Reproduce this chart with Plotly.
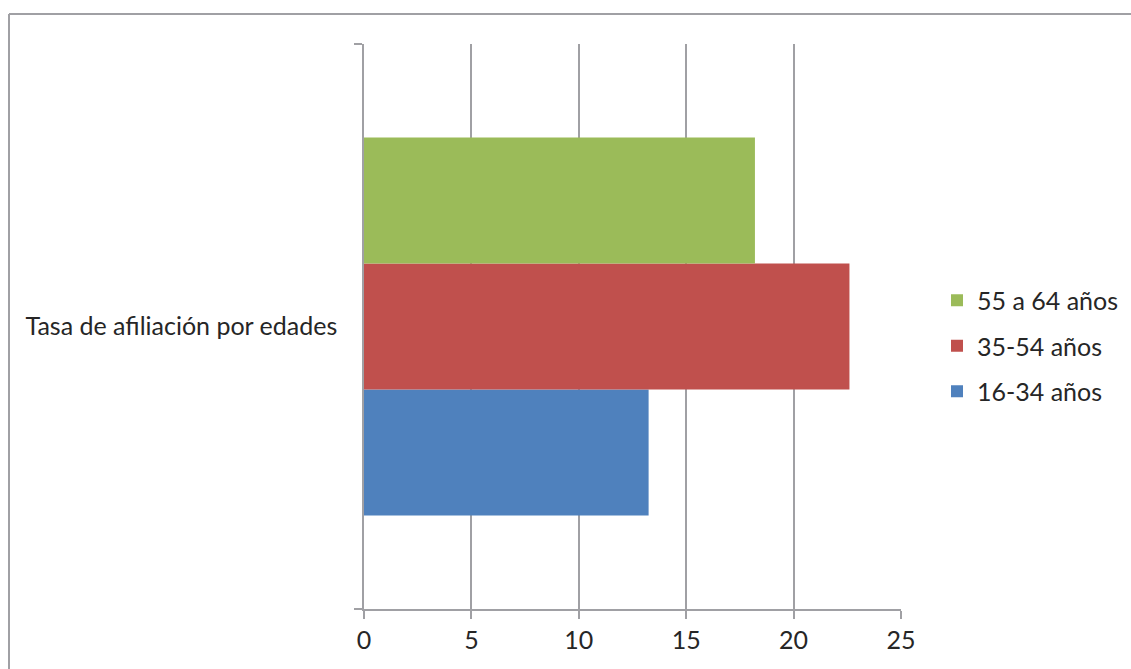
import plotly.graph_objects as go

categories = ["Tasa de afiliación por edades"]
series_names = ["16-34 años", "35-54 años", "55 a 64 años"]
series_values = [[13.25], [22.6], [18.2]]
series_colors = ["#4f81bd", "#c0504d", "#9bbb59"]
legend_ranks = [3, 2, 1]
x_ticks = [0, 5, 10, 15, 20, 25]

W, H = 1131, 669
L, R, T, B = 364, 901, 44, 609

fig = go.Figure()
for name, vals, col, rk in zip(series_names, series_values, series_colors, legend_ranks):
    fig.add_trace(go.Bar(
        y=categories, x=vals, name=name, orientation="h",
        marker=dict(color=col, line=dict(width=0)),
        legendgroup=name, legendrank=rk,
    ))

FAM = "Lato, Open Sans, sans-serif"
font = dict(family=FAM, size=25, color="#262626")
grid = "#a0a0a4"

fig.update_layout(
    width=W, height=H,
    margin=dict(l=L, r=W - R, t=T, b=H - B, pad=0, autoexpand=False),
    paper_bgcolor="white", plot_bgcolor="white",
    font=font,
    barmode="group", bargap=0.331, bargroupgap=0,
    showlegend=True,
    legend=dict(
        traceorder="grouped", tracegroupgap=10,
        xref="container", yref="container",
        x=937 / W, xanchor="left", y=1 - 346 / H, yanchor="middle",
        font=dict(size=25, family=FAM, color="#262626"),
        bgcolor="rgba(0,0,0,0)", itemwidth=30,
    ),
    xaxis=dict(
        range=[0, 25], tickvals=x_ticks, showgrid=True, gridcolor=grid, gridwidth=1.5,
        showline=True, linecolor=grid, linewidth=1.5,
        ticks="outside", ticklen=8, tickcolor=grid, tickwidth=1.5,
        zeroline=False, fixedrange=True, automargin=False,
    ),
    yaxis=dict(
        type="category", tickson="boundaries", ticks="outside", ticklen=8,
        tickcolor=grid, tickwidth=1.5,
        showline=True, linecolor=grid, linewidth=1.5, showgrid=False,
        ticklabelstandoff=20, fixedrange=True, automargin=False,
    ),
    shapes=[
        dict(type="line", xref="paper", yref="paper",
             x0=(9 - L) / (R - L), x1=(W + 10 - L) / (R - L),
             y0=1 + (T - 14) / (B - T), y1=1 + (T - 14) / (B - T),
             line=dict(color="#a0a0a4", width=2)),
        dict(type="line", xref="paper", yref="paper",
             x0=(9 - L) / (R - L), x1=(9 - L) / (R - L),
             y0=1 + (T - 14) / (B - T), y1=-(H + 10 - B) / (B - T),
             line=dict(color="#a0a0a4", width=2)),
    ],
)

fig.write_html("out.html")
